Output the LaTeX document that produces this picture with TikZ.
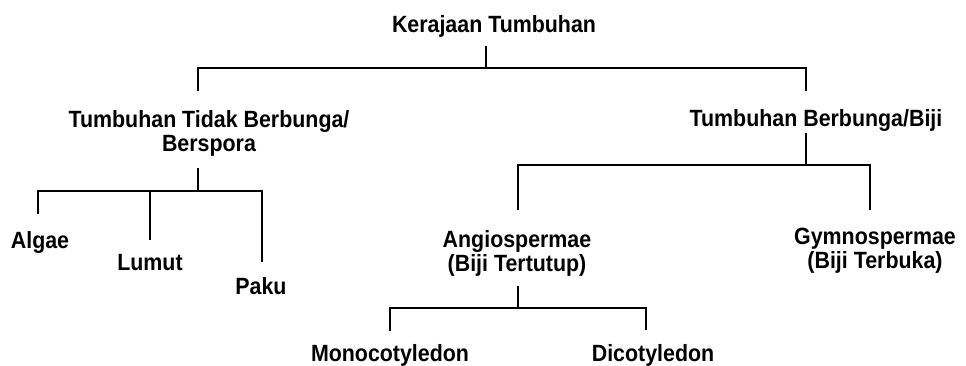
\documentclass[tikz,border=0pt]{standalone}
\usepackage{fontspec}
\setmainfont{Liberation Sans}[FakeStretch=0.91]
\usetikzlibrary{positioning}

\begin{document}
\begin{tikzpicture}[
    x=1pt, y=-1pt,
    font=\bfseries\fontsize{23.5}{24}\selectfont,
    txt/.style={align=center, inner sep=0pt, anchor=base},
    link/.style={line width=2pt}
  ]
  \useasboundingbox (0,0) rectangle (966,366);

  % nodes
  \node[txt] (root)  at (494,33)  {Kerajaan Tumbuhan};
  \node[txt] (tidak) at (209,152) {Tumbuhan Tidak Berbunga/\\Berspora};
  \node[txt] (biji)  at (816,127) {Tumbuhan Berbunga/Biji};
  \node[txt] (algae) at (40,248)  {Algae};
  \node[txt] (lumut) at (150,270) {Lumut};
  \node[txt] (paku)  at (261,294) {Paku};
  \node[txt] (angio) at (517,271) {Angiospermae\\(Biji Tertutup)};
  \node[txt] (gymno) at (875,268) {Gymnospermae\\(Biji Terbuka)};
  \node[txt] (mono)  at (390,361) {Monocotyledon};
  \node[txt] (dico)  at (653,361) {Dicotyledon};

  % kerajaan
  \coordinate (b0) at (486,68);
  \draw[link, shorten <=8pt] (b0 |- root.south) -- (b0);
  \draw[link, shorten >=20pt] (b0) -| ([xshift=-11pt]tidak.north);
  \draw[link, shorten >=19pt] (b0) -| ([xshift=-10pt]biji.north);

  % tidak berbunga
  \coordinate (b1) at (198,191);
  \draw[link, shorten <=11pt] (b1 |- tidak.south) -- (b1);
  \draw[link, shorten >=17pt] (b1) -| ([xshift=-2pt]algae.north);
  \draw[link, shorten >=14pt] (b1) -- (b1 -| lumut.north) -- (lumut.north);
  \draw[link, shorten >=15pt] (b1) -| ([xshift=1pt]paku.north);

  % berbunga
  \coordinate (b2) at (806,165);
  \draw[link, shorten <=1pt] (b2 |- biji.south) -- (b2);
  \draw[link, shorten >=20pt] (b2) -| ([xshift=1pt]angio.north);
  \draw[link, shorten >=17pt] (b2) -| ([xshift=-5pt]gymno.north);

  % angiospermae
  \coordinate (b3) at (518,308);
  \draw[link, shorten <=10pt] (b3 |- angio.south) -- (b3);
  \draw[link, shorten >=13pt] (b3) -| (mono.north);
  \draw[link, shorten >=14pt] (b3) -| ([xshift=-7pt]dico.north);
\end{tikzpicture}
\end{document}
